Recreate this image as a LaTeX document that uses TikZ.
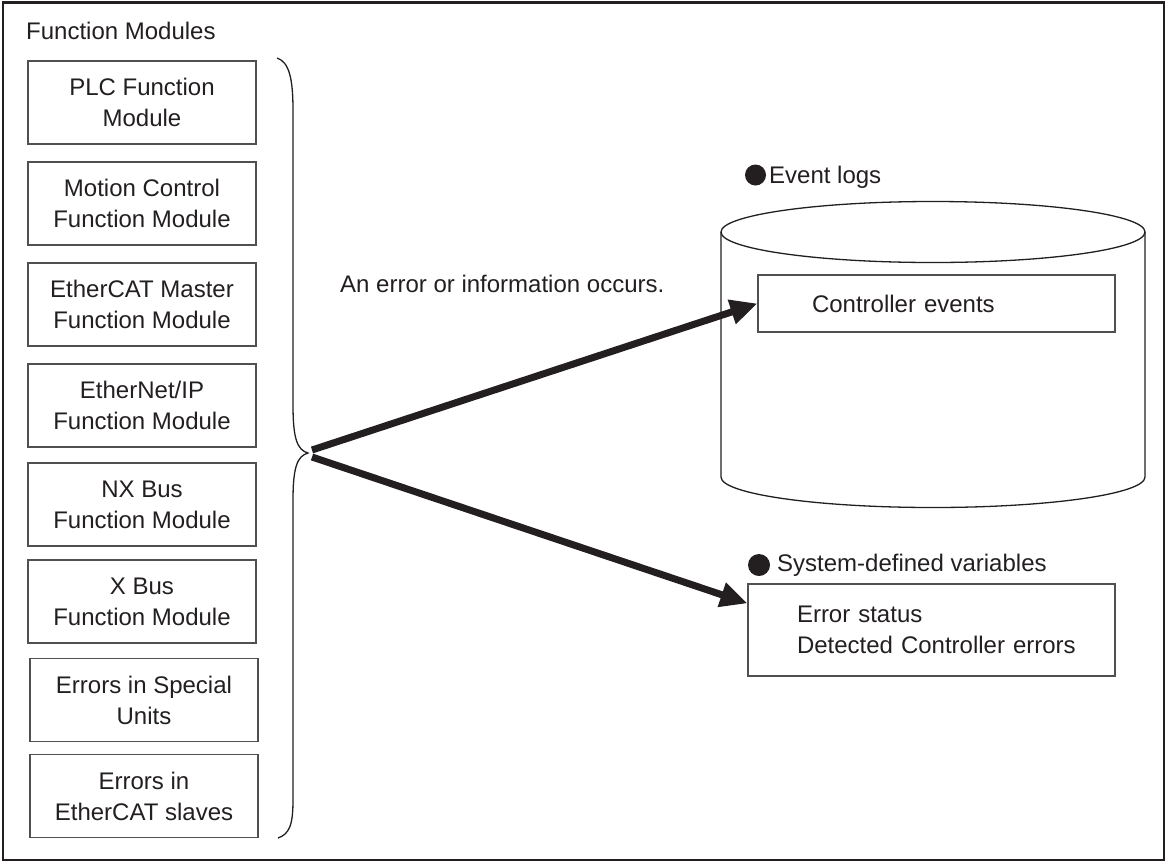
\documentclass[tikz,border=0pt]{standalone}
\usepackage{fontspec}
\setmainfont{Liberation Sans}
\usetikzlibrary{arrows.meta,calc}
\definecolor{ink}{HTML}{231F20}
\definecolor{boxline}{HTML}{505050}
\begin{document}
\begin{tikzpicture}[x=1pt,y=-1pt,
  every node/.style={font=\fontsize{24}{31}\selectfont, text=ink},
  modbox/.style={draw=boxline, line width=1.3pt, minimum width=228pt, minimum height=83pt,
    align=center, inner sep=0pt},
  logbox/.style={draw=boxline, line width=1.3pt, inner xsep=0pt, inner ysep=0pt, align=left},
  label/.style={anchor=base west, inner sep=0pt},
  bigarrow/.style={draw=ink, line width=7pt, -{Triangle[length=27pt,width=24pt]}},
  thinline/.style={draw=ink, line width=1.3pt}]
\useasboundingbox (0,0) rectangle (1168,863);
% frame
\draw[draw=ink, line width=2.5pt] (3,2.5) rectangle (1164,860);
\node[label] (title) at (26,39) {Function Modules};
% modules
\node[modbox] (m1) at (142,102.5) {PLC Function\\Module};
\node[modbox] (m2) at (142,203.5) {Motion Control\\Function Module};
\node[modbox] (m3) at (142,304.5) {EtherCAT Master\\Function Module};
\node[modbox] (m4) at (142,405.5) {EtherNet/IP\\Function Module};
\node[modbox] (m5) at (142,504.5) {NX Bus\\Function Module};
\node[modbox] (m6) at (142,601.5) {X Bus\\Function Module};
\node[modbox] (m7) at (144,700) {Errors in Special\\Units};
\node[modbox] (m8) at (144,796) {Errors in\\EtherCAT slaves};
% brace
\coordinate (tip) at (308,453);
\draw[thinline] (277,58) .. controls (289,62) and (293,78) .. (293,110)
  -- (293,405) .. controls (293,438) and (297,450) .. (tip)
  .. controls (297,456) and (293,468) .. (293,500)
  -- (293,800) .. controls (293,826) and (289,834) .. (278,838);
\coordinate (tipA) at (312,450);
\coordinate (tipB) at (312,457);
% message
\node[label] (msg) at (340,292) {An error or information occurs.};
% event log cylinder
\draw[thinline] (933,232) ellipse [x radius=212, y radius=30.5];
\draw[thinline] (721,232) -- (721,477) arc[start angle=180, end angle=0, x radius=212, y radius=30.5] -- (1145,232);
\fill[ink] (755.5,175) circle[radius=10.5];
\node[label] (evlog) at (769,183) {Event logs};
\node[logbox, text width=357pt, minimum height=57pt] (ctrl) at (936.5,303.5)
  {\hspace*{54pt}Controller events};
% system-defined variables
\fill[ink] (759,565) circle[radius=11];
\node[label] (sysvar) at (777,571) {System-defined variables};
\node[logbox, text width=367pt, minimum height=92pt] (sys) at (931.5,630)
  {\hspace*{49pt}Error status\\\hspace*{49pt}Detected Controller errors};
\coordinate (sysin) at ($(sys.north west)+(0,20)$);
% arrows
\draw[bigarrow] (tipA) -- (ctrl.west);
\draw[bigarrow] (tipB) -- (sysin);
\end{tikzpicture}
\end{document}
